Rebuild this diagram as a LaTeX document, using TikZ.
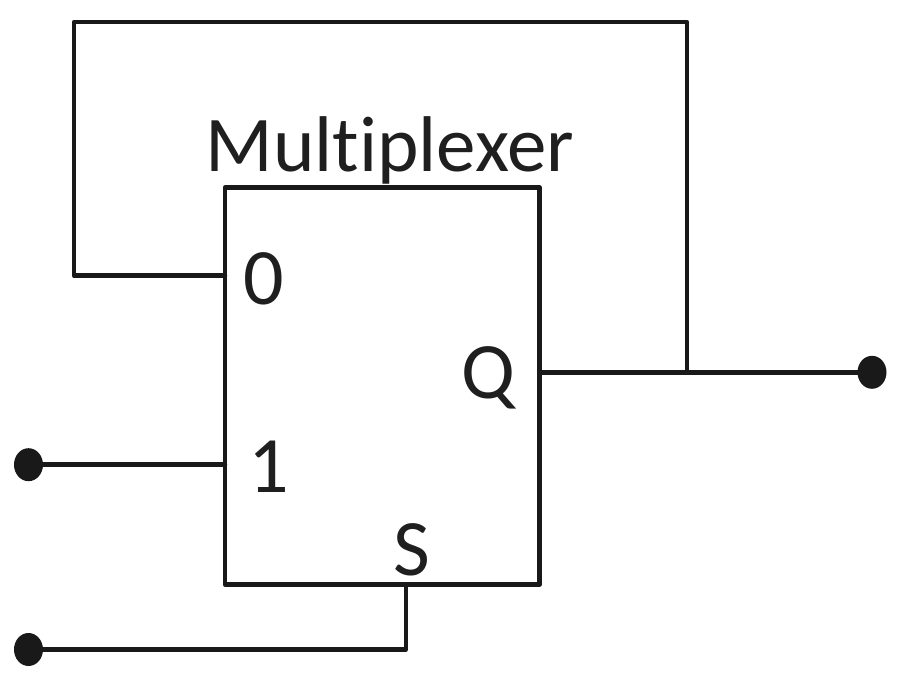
\documentclass[tikz,border=0pt]{standalone}
\usepackage{fontspec}
\setmainfont[Ligatures=NoCommon]{Carlito}
\usetikzlibrary{shapes.geometric}
\begin{document}
\begin{tikzpicture}[x=1pt,y=-1pt,
  wire/.style={draw=black!90,line width=4.6pt,line cap=round,line join=round},
  term/.style={ellipse,fill=black!90,minimum width=29pt,minimum height=33pt,inner sep=0pt},
  lab/.style={font=\fontsize{80}{80}\selectfont,text=black!88,inner sep=0pt,anchor=base}]
\useasboundingbox (0,0) rectangle (898,682);
\node[draw=black!90,line width=4.6pt,line join=round,minimum width=314.5pt,minimum height=397pt,inner sep=0pt,outer sep=0pt] (box) at (382.2,386) {};
\node[lab,font=\fontsize{79}{79}\selectfont] (title) at (390,172) {Multiplexer};
\node[lab] (l0) at (263.7,305) {0};
\node[lab] (l1) at (269,492.5) {1};
\node[lab] (lq) at (488.5,398) {Q};
\node[lab] (ls) at (411.5,575) {S};
\node[term] (tq) at (872,372.3) {};
\node[term] (t1) at (28.5,464.7) {};
\node[term] (ts) at (28.5,649.5) {};
\coordinate (p0) at (box.west |- 0,275.7);
\coordinate (p1) at (box.west |- t1);
\coordinate (pq) at (box.east |- tq);
\coordinate (ps) at (405.8,584.5);
\coordinate (j) at (687,372.3);
\coordinate (jt) at (687,22);
\coordinate (lt) at (74,22);
\coordinate (lb) at (74,275.7);
\coordinate (sb) at (405.8,649.5);
\draw[wire] (pq) -- (tq);
\draw[wire] (j) -- (jt) -- (lt) -- (lb) -- (p0);
\draw[wire] (t1) -- (p1);
\draw[wire] (ts) -- (sb) -- (ps);
\end{tikzpicture}
\end{document}
